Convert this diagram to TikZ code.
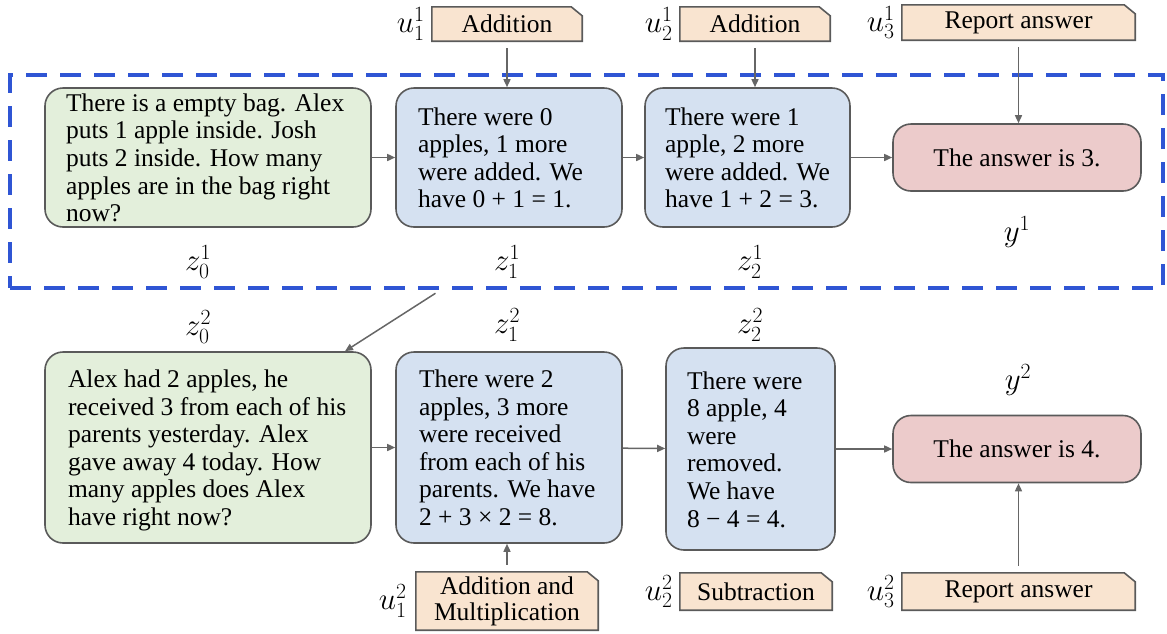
\RequirePackage{fix-cm}
\documentclass[tikz,border=0pt]{standalone}
\usepackage{fontspec}
\setmainfont{Liberation Serif}
\usetikzlibrary{arrows.meta,backgrounds}
\definecolor{bordergray}{HTML}{5A5A5A}
\definecolor{greenfill}{HTML}{E3EFDB}
\definecolor{bluefill}{HTML}{D5E1F1}
\definecolor{redfill}{HTML}{ECCBCB}
\definecolor{tagfill}{HTML}{F9E4D0}
\definecolor{dashblue}{HTML}{2F55D4}
\definecolor{arrgray}{HTML}{666666}
\newcommand{\txtlines}[2]{\raisebox{0pt}[\dimexpr\height+3.5pt\relax][\dimexpr\depth-3.5pt\relax]{\makebox[#1][l]{\begin{tabular}{@{}l@{}}#2\end{tabular}}}}
\newcommand{\tagoutline}[1]{\draw[tagline] (#1.south west) -- (#1.north west) -- ([xshift=-11pt]#1.north east) -- ([yshift=-9pt]#1.north east) -- (#1.south east) -- cycle;}
\begin{document}
\begin{tikzpicture}[x=1pt,y=-1pt,
  box/.style={draw=bordergray, line width=1.6pt, rounded corners=18pt, inner sep=0pt,
    font=\fontsize{25.5}{27.6}\selectfont},
  gbox/.style={box, fill=greenfill},
  bbox/.style={box, fill=bluefill},
  rbox/.style={box, fill=redfill},
  tagn/.style={inner sep=0pt, font=\fontsize{25.5}{26}\selectfont, align=center},
  tagline/.style={draw=bordergray, line width=1.6pt, fill=tagfill},
  lab/.style={inner sep=0pt, font=\fontsize{31}{34}\selectfont},
  arr/.style={draw=arrgray, line width=1.5pt, -{Triangle[length=8pt,width=7pt]}},
  grpbox/.style={draw=dashblue, line width=4.5pt, dash pattern=on 21pt off 13pt, inner sep=0pt}
]
\useasboundingbox (0,0) rectangle (1167,633);

% dashed group
\node[grpbox, minimum width=1153pt, minimum height=213pt] (grp) at (586.5,181.5) {};

% row 1
\node[gbox, minimum width=326pt, minimum height=139pt] (z01) at (208,157.5)
  {\txtlines{284pt}{There is a empty bag. Alex\\ puts 1 apple inside. Josh\\ puts 2 inside. How many\\ apples are in the bag right\\ now?}};
\node[bbox, minimum width=226pt, minimum height=139pt] (z11) at (509,157.5)
  {\txtlines{182pt}{There were 0\\ apples, 1 more\\ were added. We\\ have 0 + 1 = 1.}};
\node[bbox, minimum width=205pt, minimum height=139pt] (z21) at (747.5,157.5)
  {\txtlines{165pt}{There were 1\\ apple, 2 more\\ were added. We\\ have 1 + 2 = 3.}};
\node[rbox, minimum width=248pt, minimum height=67pt] (y1) at (1017,157.5)
  {The answer is 3.};

\node[lab] (lz01) at (198,262) {$z_0^1$};
\node[lab] (lz11) at (507,262) {$z_1^1$};
\node[lab] (lz21) at (750,262) {$z_2^1$};
\node[lab] (ly1) at (1017,232) {$y^1$};

% top tags
\node[tagn, minimum width=150pt, minimum height=34pt] (t11) at (507,24) {Addition};
\node[tagn, minimum width=150pt, minimum height=34pt] (t21) at (755,24) {Addition};
\node[tagn, minimum width=233pt, minimum height=35pt] (t31) at (1018.5,22.5) {Report answer};
\node[lab, anchor=east] (lu11) at ([xshift=-7pt]t11.west) {$u_1^1$};
\node[lab, anchor=east] (lu21) at ([xshift=-7pt]t21.west) {$u_2^1$};
\node[lab, anchor=east] (lu31) at ([xshift=-7pt]t31.west) {$u_3^1$};

% row 2
\node[gbox, minimum width=326pt, minimum height=191pt] (z02) at (208,447.5)
  {\txtlines{280pt}{Alex had 2 apples, he\\ received 3 from each of his\\ parents yesterday. Alex\\ gave away 4 today. How\\ many apples does Alex\\ have right now?}};
\node[bbox, minimum width=226pt, minimum height=191pt] (z12) at (509,447.5)
  {\txtlines{180pt}{There were 2\\ apples, 3 more\\ were received\\ from each of his\\ parents. We have\\ 2 + 3 × 2 = 8.}};
\node[bbox, minimum width=169pt, minimum height=202pt] (z22) at (750.5,449)
  {\txtlines{127pt}{There were\\ 8 apple, 4\\ were\\ removed.\\ We have\\ 8 − 4 = 4.}};
\node[rbox, minimum width=248pt, minimum height=67pt] (y2) at (1017,449)
  {The answer is 4.};

\node[lab] (lz02) at (198,327) {$z_0^2$};
\node[lab] (lz12) at (507,325) {$z_1^2$};
\node[lab] (lz22) at (750,325) {$z_2^2$};
\node[lab] (ly2) at (1018,380) {$y^2$};

% bottom tags
\node[tagn, minimum width=182pt, minimum height=58pt] (t12) at (507,601) {Addition and\\ Multiplication};
\node[tagn, minimum width=152pt, minimum height=37pt] (t22) at (756,591.5) {Subtraction};
\node[tagn, minimum width=233pt, minimum height=37pt] (t32) at (1018.5,591.5) {Report answer};
\node[lab, anchor=east] (lu12) at ([xshift=-9pt]t12.west) {$u_1^2$};
\node[lab, anchor=east] (lu22) at ([xshift=-7pt]t22.west) {$u_2^2$};
\node[lab, anchor=east] (lu32) at ([xshift=-7pt]t32.west) {$u_3^2$};

\begin{scope}[on background layer]
  \tagoutline{t11}
  \tagoutline{t21}
  \tagoutline{t31}
  \tagoutline{t12}
  \tagoutline{t22}
  \tagoutline{t32}
\end{scope}

% arrows
\draw[arr] (z01) -- (z11);
\draw[arr] (z11) -- (z21);
\draw[arr] (z21) -- (y1);
\draw[arr, shorten <=7pt] (t11.south) -- (t11.south |- z11.north);
\draw[arr, shorten <=7pt] (t21.south) -- (t21.south |- z21.north);
\draw[arr, shorten <=7pt] (t31.south) -- (t31.south |- y1.north);

\coordinate (dstart) at ([xshift=-151pt,yshift=-3pt]grp.south);
\draw[arr] (dstart) -- ([xshift=137pt]z02.north);

\draw[arr] (z02) -- (z12);
\draw[arr] (z12) -- (z22);
\draw[arr] (z22) -- (y2);
\draw[arr, shorten <=7pt] (t12.north) -- (t12.north |- z12.south);
\draw[arr, shorten <=7pt] (t32.north) -- (t32.north |- y2.south);
\end{tikzpicture}
\end{document}
